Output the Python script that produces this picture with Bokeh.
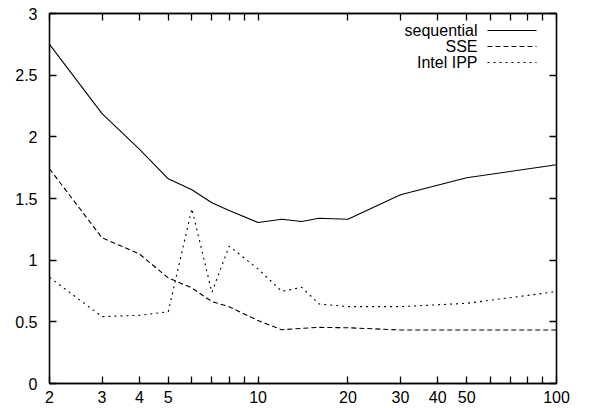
from bokeh.plotting import figure
from bokeh.models import (Range1d, LogAxis, LinearAxis, FixedTicker, Label, Arrow)
from bokeh.embed import file_html
from bokeh.resources import INLINE

# data
x_vals = [2, 3, 4, 5, 6, 7, 8, 10, 12, 14, 16, 20, 30, 50, 100]
sequential = [2.749, 2.188, 1.90, 1.660, 1.571, 1.465, 1.403, 1.305, 1.332, 1.313, 1.340, 1.332, 1.530, 1.668, 1.774]
sse = [1.741, 1.181, 1.051, 0.856, 0.775, 0.664, 0.623, 0.510, 0.436, 0.447, 0.455, 0.452, 0.434, 0.434, 0.434]
ipp = [0.861, 0.542, 0.553, 0.582, 1.417, 0.739, 1.113, 0.929, 0.747, 0.780, 0.645, 0.623, 0.623, 0.650, 0.745]

series_names = ["sequential", "SSE", "Intel IPP"]
x_ticks = [2, 3, 4, 5, 6, 7, 8, 9, 10, 20, 30, 40, 50, 60, 70, 80, 90, 100]
x_labeled = [2, 3, 4, 5, 10, 20, 30, 40, 50, 100]
y_ticks = [0, 0.5, 1, 1.5, 2, 2.5, 3]

FONT = "Liberation Sans"
FS = "16px"

p = figure(width=589, height=408, x_axis_type="log",
           x_range=Range1d(2, 100), y_range=Range1d(0, 3),
           output_backend="svg", toolbar_location=None,
           min_border_left=49, min_border_right=33, min_border_top=13,
           min_border_bottom=25)
p.grid.visible = False
p.outline_line_color = "#000000"
p.outline_line_width = 1.3
p.outline_line_alpha = 1.0

overrides = {t: (str(t) if t in x_labeled else "") for t in x_ticks}

def style_axis(ax, labels=True):
    ax.major_tick_in = 7
    ax.major_tick_out = 0
    ax.minor_tick_in = 0
    ax.minor_tick_out = 0
    ax.axis_line_color = "#000000"
    ax.axis_line_width = 1.3
    ax.axis_line_alpha = 1.0
    ax.major_tick_line_color = "#000000"
    ax.major_tick_line_width = 1.3
    ax.major_label_text_font = FONT
    ax.major_label_text_font_size = FS
    ax.major_label_text_color = "black"
    if not labels:
        ax.major_label_text_alpha = 0
        ax.major_label_standoff = 0

xa = p.xaxis[0]
xa.ticker = FixedTicker(ticks=x_ticks)
xa.major_label_overrides = overrides
xa.major_label_standoff = 7
style_axis(xa)

ya = p.yaxis[0]
ya.ticker = FixedTicker(ticks=y_ticks)
ya.major_label_standoff = 12
ya.major_label_overrides = {0: "0", 0.5: "0.5", 1: "1", 1.5: "1.5", 2: "2", 2.5: "2.5", 3: "3"}
style_axis(ya)

top = LogAxis(ticker=FixedTicker(ticks=x_ticks),
              major_label_overrides={t: "" for t in x_ticks})
style_axis(top, labels=False)
p.add_layout(top, "above")
right = LinearAxis(ticker=FixedTicker(ticks=y_ticks),
                   major_label_overrides={t: "" for t in y_ticks})
style_axis(right, labels=False)
p.add_layout(right, "right")

dashes = ["solid", "5 3", "2 4"]
for vals, dash in zip([sequential, sse, ipp], dashes):
    p.line(x_vals, vals, line_color="black", line_width=1.1, line_dash=dash)

# legend (text right-aligned, sample line to the right)
for i, (name, dash) in enumerate(zip(series_names, dashes)):
    yy = 353 - 16 * i
    p.add_layout(Label(x=428, y=yy, x_units="screen", y_units="screen", text=name,
                       text_align="right", text_baseline="middle",
                       text_font=FONT, text_font_size=FS, text_color="black"))
    p.add_layout(Arrow(x_start=438, y_start=yy, x_end=487, y_end=yy,
                       start_units="screen", end_units="screen", end=None,
                       line_color="black", line_width=1.1, line_dash=dash))

open("out.html", "w").write(file_html(p, INLINE))
